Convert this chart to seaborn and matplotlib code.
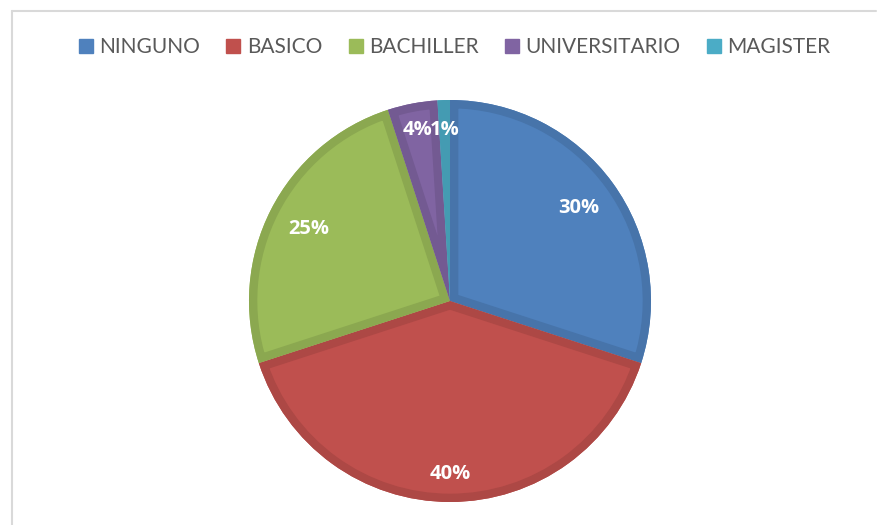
import numpy as np
import pandas as pd
import matplotlib
matplotlib.use('Agg')
import matplotlib.pyplot as plt
import seaborn as sns
from matplotlib.lines import Line2D
from matplotlib.patches import PathPatch

# data
categories = ['NINGUNO', 'BASICO', 'BACHILLER', 'UNIVERSITARIO', 'MAGISTER']
percent = [30, 40, 25, 4, 1]
colors = ['#4F81BD', '#C0504D', '#9BBB59', '#8064A2', '#4BACC6']

df = pd.DataFrame({'nivel': categories, 'pct': percent})

sns.set_theme(style='white')
plt.rcParams['font.family'] = ['Lato', 'DejaVu Sans']
palette = sns.color_palette(colors)

W, H = 877, 525
fig = plt.figure(figsize=(W / 100, H / 100), dpi=100)
fig.patch.set_facecolor('white')

# pie centre (450, 301) px, radius 201 px
cx, cy, r_px = 450, 301, 201
lim = 1.05
half = r_px * lim
ax = fig.add_axes([(cx - half) / W, (H - cy - half) / H, 2 * half / W, 2 * half / H])

wedges, _, autotexts = ax.pie(
    df['pct'], colors=palette, startangle=90, counterclock=False, radius=1,
    autopct='%1.0f%%', pctdistance=0.82,
    wedgeprops=dict(linewidth=0),
    textprops=dict(color='white', fontsize=14.5, fontweight='bold',
                   family=['Open Sans', 'DejaVu Sans']))

# darker inner rim on each slice (Excel style)
for w, c in zip(wedges, palette):
    dark = tuple(v * 0.9 for v in c)
    rim = PathPatch(w.get_path(), facecolor='none', edgecolor=dark, lw=12)
    ax.add_patch(rim)
    rim.set_clip_path(w)

# label radii (inside end placement)
label_r = [0.79, 0.86, 0.79, 0.865, 0.85]
cum = np.cumsum(percent) - np.array(percent) / 2
for t, m, rr in zip(autotexts, cum, label_r):
    ang = np.deg2rad(90 - 360 * m / sum(percent))
    t.set_position((rr * np.cos(ang), rr * np.sin(ang)))
    t.set_ha('center')
    t.set_va('center')

ax.set_xlim(-lim, lim)
ax.set_ylim(-lim, lim)
ax.set_aspect('equal')
ax.axis('off')

handles = [Line2D([], [], marker='s', linestyle='none', markersize=10,
                  markerfacecolor=c, markeredgecolor=c) for c in palette]
fig.legend(handles, categories, loc='center', bbox_to_anchor=(455 / W, 1 - 47 / H),
           ncol=5, frameon=False, handlelength=0.6, handletextpad=0.35,
           columnspacing=1.3, prop={'family': 'Lato', 'size': 15},
           labelcolor='#595959')

# chart area frame (only left and top edges visible)
frame = dict(color='#d9d9d9', lw=1.5, transform=fig.transFigure)
fig.add_artist(Line2D([12 / W, 12 / W], [0, 1 - 11 / H], **frame))
fig.add_artist(Line2D([12 / W, 876 / W], [1 - 11 / H, 1 - 11 / H], **frame))

fig.savefig('out.png', dpi=100)
